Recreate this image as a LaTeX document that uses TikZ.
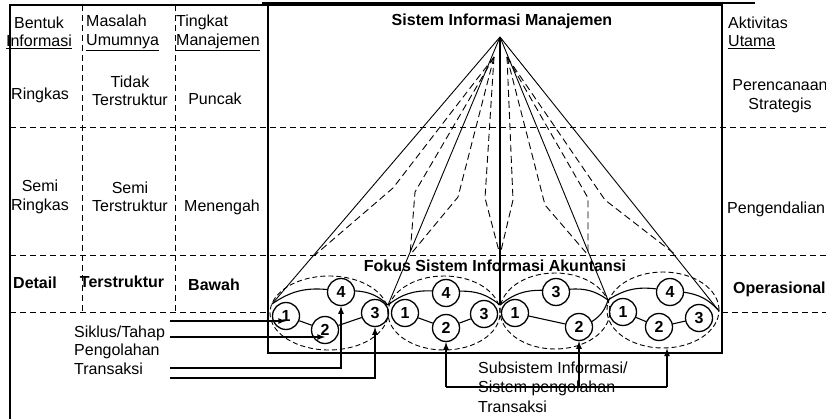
\documentclass[tikz,border=0pt]{standalone}
\usepackage{fontspec}
\setmainfont{Liberation Sans}
\usetikzlibrary{shapes.geometric}

\begin{document}
\begin{tikzpicture}[
                      x = 1pt,
                      y = -1pt,
                     >= latex,
      every node/.style = {inner sep=0pt, font=\fontsize{16}{18.5}\selectfont},
           heavy/.style = {font=\fontsize{16}{18.5}\selectfont\bfseries},
            grid/.style = {dash pattern=on 6pt off 4pt, line width=0.9pt},
             ray/.style = {dash pattern=on 7pt off 4pt, line width=0.9pt},
            ring/.style = {ellipse, draw, dash pattern=on 5pt off 3pt, line width=0.9pt},
             num/.style = {circle, draw, line width=1.3pt, minimum size=27pt, font=\fontsize{16}{16}\selectfont\bfseries},
            link/.style = {line width=1.1pt},
             arr/.style = {->, line width=1.6pt},
                     ]
    \useasboundingbox (0,0) rectangle (826,419);
    % frame and grid
    \draw[line width=1.2pt] (10,419) -- (10,5) -- (268,5);
    \draw[line width=1.3pt] (268,5) rectangle (722,353);
    \draw[line width=2.2pt] (262,3) -- (755,3);
    \draw[grid] (82,5) -- (82,312);
    \draw[grid] (175,5) -- (175,312);
    \draw[grid] (10,127) -- (826,127);
    \draw[grid] (10,255) -- (826,255);
    \draw[grid] (10,312) -- (268,312);
    \draw[grid] (722,312) -- (826,312);

    % column heads
    \node[align=center] (bentuk) at (39,33) {Bentuk\\\underline{Informasi}};
    \node[align=left, anchor=west] (masalah) at (86,33) {Masalah\\\underline{Umumnya}};
    \node[align=left, anchor=west] (tingkat) at (176,33) {Tingkat\\\underline{Manajemen}};
    \node[align=left, anchor=west] (aktivitas) at (728,33) {Aktivitas\\\underline{Utama}};
    \node[heavy] (sim) at (502,21) {Sistem Informasi Manajemen};

    % rows
    \node[anchor=west] (ringkas) at (11,95) {Ringkas};
    \node[align=center] (tidak) at (130,91) {Tidak\\Terstruktur};
    \node (puncak) at (215,99) {Puncak};
    \node[align=center] (strategis) at (780,96) {Perencanaan\\Strategis};
    \node[align=center] (semiringkas) at (40,197) {Semi\\Ringkas};
    \node[align=center] (semistruktur) at (130,197) {Semi\\Terstruktur};
    \node (menengah) at (222,207) {Menengah};
    \node[anchor=west] (pengendalian) at (727,209) {Pengendalian};
    \node[heavy] (detail) at (35,283) {Detail};
    \node[heavy] (terstruktur) at (122,282) {Terstruktur};
    \node[heavy] (bawah) at (214,285) {Bawah};
    \node[heavy, anchor=west] (operasional) at (733,289) {Operasional};
    \node[heavy] (fokus) at (495,266) {Fokus Sistem Informasi Akuntansi};

    % subsystems
    \node[ring, minimum width=118pt, minimum height=74pt] (e1) at (329,313) {};
    \node[ring, minimum width=112pt, minimum height=74pt] (e2) at (444,313) {};
    \node[ring, minimum width=110pt, minimum height=76pt] (e3) at (555,311) {};
    \node[ring, minimum width=112pt, minimum height=76pt] (e4) at (663,310) {};

    \node[num] (c11) at (286,316) {1};
    \node[num] (c12) at (325,330) {2};
    \node[num] (c13) at (375,313) {3};
    \node[num] (c14) at (341,292) {4};
    \node[num] (c21) at (405,313) {1};
    \node[num] (c22) at (446,328) {2};
    \node[num] (c23) at (484,314) {3};
    \node[num] (c24) at (446,293) {4};
    \node[num] (c31) at (515,313) {1};
    \node[num] (c32) at (579,327) {2};
    \node[num] (c33) at (556,292) {3};
    \node[num] (c41) at (623,312) {1};
    \node[num] (c42) at (659,327) {2};
    \node[num] (c43) at (699,318) {3};
    \node[num] (c44) at (670,292) {4};

    % pyramid
    \coordinate (apex) at (500,37);
    \coordinate (tl) at (494,57);
    \coordinate (tr) at (507,57);
    \coordinate (p0) at (315,255);
    \coordinate (p1) at (410,255);
    \coordinate (p2) at (500,255);
    \coordinate (p3) at (588,255);
    \coordinate (p4) at (676,255);
    \coordinate (j0) at (272,304);
    \coordinate (j1) at (388,305);
    \coordinate (j2) at (500,305);
    \coordinate (j3) at (608,300);
    \coordinate (j4) at (719,311);

    \draw[link] (j0) to[bend left=20] (c14);
    \draw[link] (c14) to[bend left=20] (j1);
    \draw[link] (c11) -- (c12);
    \draw[link] (c12) -- (c13);
    \draw[link] (j1) to[bend left=20] (c24);
    \draw[link] (c24) to[bend left=20] (j2);
    \draw[link] (c21) -- (c22);
    \draw[link] (c22) -- (c23);
    \draw[link] (j2) to[bend left=20] (c33);
    \draw[link] (c33) to[bend left=20] (j3);
    \draw[link] (c31) -- (c32);
    \draw[link] (c32) to[bend right=20] (j3);
    \draw[link] (j3) to[bend left=20] (c44);
    \draw[link] (c44) to[bend left=20] (j4);
    \draw[link] (c41) -- (c42);
    \draw[link] (c42) -- (c43);

    \draw[line width=0.9pt] (apex) -- (j0);
    \draw[line width=0.9pt] (apex) -- (j1);
    \draw[line width=1.8pt] (apex) -- (j2);
    \draw[line width=0.9pt] (apex) -- (j3);
    \draw[line width=0.9pt] (apex) -- (j4);
    \draw[ray] (tl) -- (393,188) -- (p0);
    \draw[ray] (tl) -- (415,192) -- (p1);
    \draw[ray] (tl) -- (458,197) -- (p1);
    \draw[ray] (tl) -- (485,198) -- (p2);
    \draw[ray] (tr) -- (513,200) -- (p2);
    \draw[ray] (tr) -- (545,205) -- (p3);
    \draw[ray] (tr) -- (588,198) -- (p3);
    \draw[ray] (tr) -- (605,200) -- (p4);

    % cycle arrows
    \node[align=left, anchor=west] (siklus) at (74,350) {Siklus/Tahap\\Pengolahan\\Transaksi};
    \coordinate (s1) at (170,321);
    \coordinate (s2) at (170,337);
    \coordinate (s3) at (170,368);
    \coordinate (s4) at (170,378);
    \draw[arr] (s1) -- (s1 -| c11);
    \draw[arr] (s2) -- (s2 -| c12);
    \draw[arr] (s3) -| (c14);
    \draw[arr] (s4) -| (c13);

    % subsystem arrows
    \node[align=left, anchor=west, font=\fontsize{16}{19.5}\selectfont] (subsistem) at (478,387) {Subsistem Informasi/\\Sistem pengolahan\\Transaksi};
    \coordinate (h1) at (446,387);
    \coordinate (h2) at (667,387);
    \draw[arr] (h1) -- (c22);
    \draw[line width=1.6pt] (h1) -- (h2);
    \draw[arr] (h1 -| c32) -- (c32);
    \draw[arr] (h2) -- (h2 |- e4.south);
\end{tikzpicture}
\end{document}
